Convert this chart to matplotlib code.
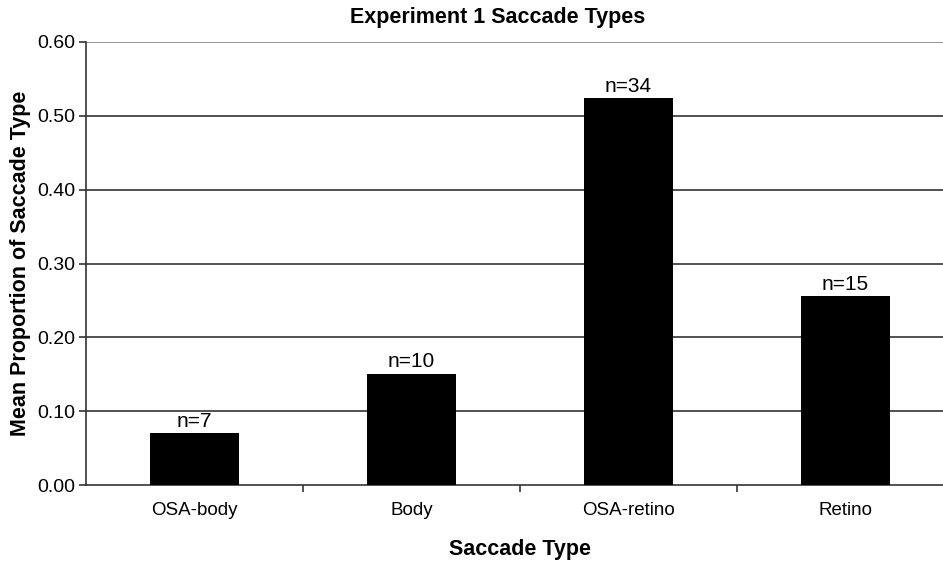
import numpy as np
import matplotlib.pyplot as plt

plt.rcParams['font.family'] = ['Liberation Sans', 'DejaVu Sans']

categories = ["OSA-body", "Body", "OSA-retino", "Retino"]
proportions = [0.070, 0.151, 0.524, 0.256]
counts = ["n=7", "n=10", "n=34", "n=15"]
yticks = [0.0, 0.1, 0.2, 0.3, 0.4, 0.5, 0.6]

fig = plt.figure(figsize=(9.43, 5.61), dpi=100)
ax = fig.add_axes([86/943, 76/561, 868/943, 443/561])

x = np.arange(len(categories))
ax.bar(x, proportions, width=0.41, color="black", zorder=3)
for xi, v, n in zip(x, proportions, counts):
    ax.text(xi, v + 0.003, n, ha="center", va="bottom", fontsize=15)

ax.set_xlim(-0.5, len(categories) - 0.5)
ax.set_ylim(0, 0.6)
ax.set_yticks(yticks)
ax.set_yticklabels(["%.2f" % t for t in yticks], fontsize=14)
for t in yticks[1:-1]:
    ax.axhline(t, color="#333333", lw=1.2, zorder=1)
ax.axhline(0.6, color="#999999", lw=1.5, zorder=1)

ax.set_xticks(x)
ax.set_xticklabels(categories, fontsize=13.5)
ax.tick_params(axis="x", length=0, pad=12)
ax.set_xticks(np.arange(len(categories) - 1) + 0.5, minor=True)
ax.tick_params(axis="x", which="minor", length=5, width=1.2, color="#333333")
ax.tick_params(axis="y", length=5, width=1.2, color="#333333", pad=3)

for s in ["top", "right"]:
    ax.spines[s].set_visible(False)
ax.spines["left"].set_color("#333333")
ax.spines["bottom"].set_color("#333333")
ax.spines["left"].set_linewidth(1.2)
ax.spines["bottom"].set_linewidth(1.2)

ax.set_xlabel("Saccade Type", fontsize=15.5, fontweight="bold", labelpad=15)
ax.set_ylabel("Mean Proportion of Saccade Type", fontsize=15.5, fontweight="bold", labelpad=4)
fig.text(498/943, 1 - 18/561, "Experiment 1 Saccade Types", ha="center", va="center",
         fontsize=15.5, fontweight="bold")

fig.savefig("out.png", dpi=100)
